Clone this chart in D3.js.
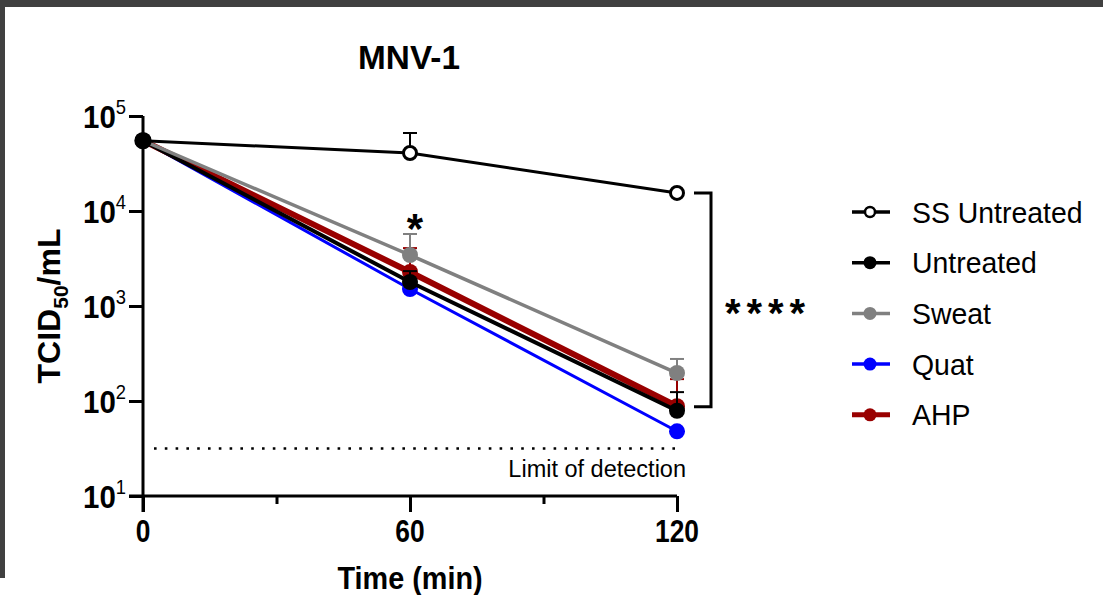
<!DOCTYPE html>
<html>
<head>
<meta charset="utf-8">
<script src="https://cdn.jsdelivr.net/npm/d3@7"></script>
<style>
  html, body { margin: 0; padding: 0; background: #fff; }
  svg { display: block; }
  text { font-family: "Liberation Sans", Arial, Helvetica, sans-serif; }
</style>
</head>
<body>
<svg id="chart" width="1103" height="595"></svg>
<script>
// ---- data ----
const times = [0, 60, 120];
const seriesNames = ["SS Untreated", "Untreated", "Sweat", "Quat", "AHP"];
const ssUntreated = [55000, 40800, 15500];
const untreated   = [55000, 1790, 79];
const sweat       = [55000, 3440, 197];
const quat        = [55000, 1510, 48];
const ahp         = [55000, 2280, 88];
// upper error (SD) values
const ssUntreatedSD = [0, 25400, 0];
const untreatedSD   = [0, 540, 45];
const sweatSD       = [0, 2290, 80];
const quatSD        = [0, 0, 0];
const ahpSD         = [0, 1790, 82];
const yTickExps = [1, 2, 3, 4, 5];
const xTicks = [0, 60, 120];
const xMinorTicks = [30, 90];
const limitOfDetection = 31.6;

// ---- styles ----
const styles = {
  "SS Untreated": { color: "#000000", width: 3, open: true,  r: 6.5 },
  "Untreated":    { color: "#000000", width: 4, open: false, r: 8 },
  "Sweat":        { color: "#808080", width: 3.5, open: false, r: 8 },
  "Quat":         { color: "#0000ff", width: 3, open: false, r: 8 },
  "AHP":          { color: "#990000", width: 6, open: false, r: 8 }
};
const valuesByName = {
  "SS Untreated": [ssUntreated, ssUntreatedSD],
  "Untreated": [untreated, untreatedSD],
  "Sweat": [sweat, sweatSD],
  "Quat": [quat, quatSD],
  "AHP": [ahp, ahpSD]
};
const drawOrder = ["Quat", "AHP", "Untreated", "Sweat", "SS Untreated"];

const svg = d3.select("#chart");

// frame
svg.append("rect").attr("x", 0).attr("y", 0).attr("width", 1103).attr("height", 7).attr("fill", "#404040");
svg.append("rect").attr("x", 0).attr("y", 0).attr("width", 5).attr("height", 578).attr("fill", "#404040");

const x = d3.scaleLinear().domain([0, 120]).range([143, 677]);
const y = d3.scaleLog().domain([10, 100000]).range([496, 116]);

function txt(g, xPos, yPos, s, opts) {
  const sx = opts.sx || 1;
  const t = g.append("text")
    .attr("transform", `translate(${xPos},${yPos}) scale(${sx},1)`)
    .attr("font-size", opts.size)
    .attr("font-weight", opts.bold ? "bold" : "normal")
    .attr("text-anchor", opts.anchor || "start")
    .attr("fill", opts.fill || "#000")
    .text(s);
  if (opts.ls) t.attr("letter-spacing", opts.ls);
  return t;
}

// title
txt(svg, 409, 69, "MNV-1", { size: 34, bold: true, anchor: "middle", sx: 0.98 });

// y axis
const yAxis = d3.axisLeft(y).tickValues(yTickExps.map(e => Math.pow(10, e)))
  .tickSize(14).tickFormat("");
const gy = svg.append("g").attr("transform", "translate(143,0)").call(yAxis);
gy.select(".domain").attr("stroke-width", 3).attr("d", `M0,${y(100000)}V${512}`);
gy.selectAll(".tick line").attr("stroke-width", 3);

yTickExps.forEach(e => {
  const t = svg.append("text")
    .attr("transform", `translate(126,${y(Math.pow(10, e)) + 12}) scale(0.92,1)`)
    .attr("font-size", 32).attr("font-weight", "bold").attr("text-anchor", "end");
  t.append("tspan").text("10");
  t.append("tspan").attr("font-size", 20).attr("font-weight", "normal").attr("dy", -14).text(String(e));
});

// x axis
const xAxis = d3.axisBottom(x).tickValues(xTicks).tickSize(16).tickFormat("");
const gx = svg.append("g").attr("transform", "translate(0,496)").call(xAxis);
gx.select(".domain").attr("stroke-width", 3).attr("d", `M129,0H${x(120)}`);
gx.selectAll(".tick line").attr("stroke-width", 3);
const xMinor = d3.axisBottom(x).tickValues(xMinorTicks).tickSize(8).tickFormat("");
const gxm = svg.append("g").attr("transform", "translate(0,496)").call(xMinor);
gxm.select(".domain").remove();
gxm.selectAll(".tick line").attr("stroke-width", 3);

xTicks.forEach(v => txt(svg, x(v), 542, String(v), { size: 31, bold: true, anchor: "middle", sx: 0.85 }));

// axis titles
txt(svg, 410, 589, "Time (min)", { size: 31, bold: true, anchor: "middle", sx: 0.93 });
{
  const t = svg.append("text")
    .attr("transform", `translate(60,306) rotate(-90)`)
    .attr("font-size", 32).attr("font-weight", "bold").attr("text-anchor", "middle");
  t.append("tspan").text("TCID");
  t.append("tspan").attr("font-size", 21).attr("dy", 8).text("50");
  t.append("tspan").attr("dy", -8).text("/mL");
}

// limit of detection
svg.append("line")
  .attr("x1", 154).attr("x2", 675)
  .attr("y1", y(limitOfDetection)).attr("y2", y(limitOfDetection))
  .attr("stroke", "#000").attr("stroke-width", 2.6)
  .attr("stroke-dasharray", "2.6 8.2");
txt(svg, 686, 477, "Limit of detection", { size: 23.5, anchor: "end", sx: 1 });

// series
const line = d3.line().x((d, i) => x(times[i])).y(d => y(d));
drawOrder.forEach(name => {
  const st = styles[name];
  const [vals, sds] = valuesByName[name];
  const g = svg.append("g");
  g.append("path").attr("d", line(vals)).attr("fill", "none")
    .attr("stroke", st.color).attr("stroke-width", st.width);
  // error bars (upper)
  vals.forEach((v, i) => {
    if (sds[i] > 0) {
      const x0 = x(times[i]);
      const yt = y(v + sds[i]);
      g.append("line").attr("x1", x0).attr("x2", x0).attr("y1", y(v)).attr("y2", yt)
        .attr("stroke", st.color).attr("stroke-width", 2);
      g.append("line").attr("x1", x0 - 7).attr("x2", x0 + 7).attr("y1", yt).attr("y2", yt)
        .attr("stroke", st.color).attr("stroke-width", 2);
    }
  });
  vals.forEach((v, i) => {
    g.append("circle").attr("cx", x(times[i])).attr("cy", y(v))
      .attr("r", st.r)
      .attr("fill", st.open ? "#fff" : st.color)
      .attr("stroke", st.color).attr("stroke-width", st.open ? 3 : 0);
  });
});
// t=0 shared black marker on top
svg.append("circle").attr("cx", x(0)).attr("cy", y(untreated[0])).attr("r", 8.7).attr("fill", "#000");

// significance star at 60
txt(svg, 415, 243, "*", { size: 42, bold: true, anchor: "middle" });

// bracket
const bTop = y(ssUntreated[2]), bBot = y(untreated[2]) - 4;
svg.append("path")
  .attr("d", `M694,${bTop}H711V${bBot}H694`)
  .attr("fill", "none").attr("stroke", "#000").attr("stroke-width", 3);
txt(svg, 768, 327, "****", { size: 40, bold: true, anchor: "middle", sx: 1, ls: 6 });

// legend
const legY0 = 212, legDy = 50.7;
seriesNames.forEach((name, i) => {
  const st = styles[name];
  const yy = legY0 + i * legDy;
  const g = svg.append("g");
  g.append("line").attr("x1", 852).attr("x2", 890).attr("y1", yy).attr("y2", yy)
    .attr("stroke", st.color).attr("stroke-width", name === "AHP" ? 5 : 3.5);
  g.append("circle").attr("cx", 870).attr("cy", yy).attr("r", st.open ? 5 : 6.5)
    .attr("fill", st.open ? "#fff" : st.color)
    .attr("stroke", st.color).attr("stroke-width", st.open ? 2.5 : 0);
  txt(g, 912, yy + 10.5, name, { size: 29, anchor: "start", sx: 0.98 });
});
</script>
</body>
</html>
